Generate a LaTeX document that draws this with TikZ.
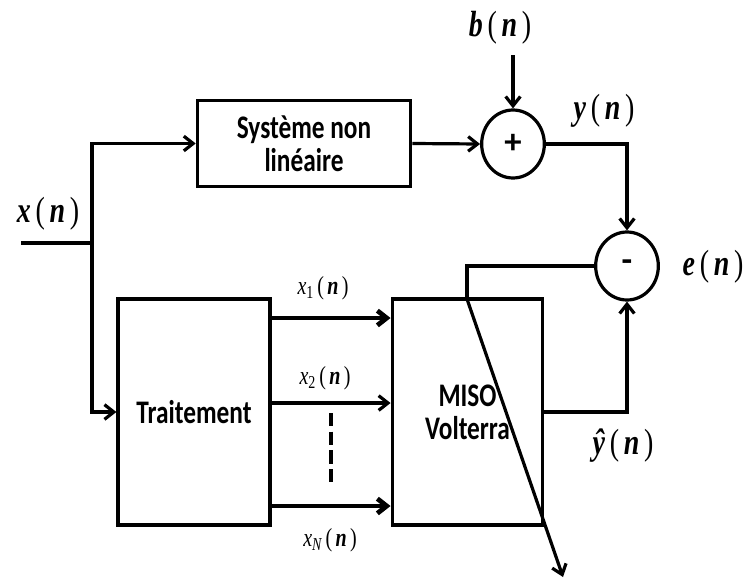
\documentclass[tikz,border=0pt]{standalone}
\usepackage{fontspec}
\usepackage{tikz}
\usetikzlibrary{arrows.meta, shapes.geometric}
\setmainfont{Liberation Serif}
\newfontfamily\boxfont{Carlito}
\newfontfamily\sigfont{Liberation Serif}

\newcommand{\sig}[1]{{\bfseries\itshape #1}\,(\,{\bfseries\itshape n}\,)}
\newcommand{\sub}[1]{{\itshape x}\textsubscript{#1}\,(\,{\bfseries\itshape n}\,)}

\begin{document}
\begin{tikzpicture}[
		x=0.75pt, y=-0.75pt,
		line width=2.4pt,
		block/.style={draw, line width=2.4pt, inner sep=0pt},
		boxtext/.style={align=center, yscale=1.3, transform shape,
			font=\boxfont\bfseries\fontsize{19}{19}\selectfont},
		sumnode/.style={draw, ellipse, line width=2.4pt, inner sep=0pt,
			minimum width=47pt, minimum height=51pt,
			font=\boxfont\bfseries\fontsize{26}{26}\selectfont},
		siglabel/.style={yscale=1.3, transform shape, font=\sigfont\fontsize{21}{24}\selectfont},
		sublabel/.style={yscale=1.3, transform shape, font=\sigfont\fontsize{15}{18}\selectfont},
		arrow/.style={-{Straight Barb[length=7pt, width=11pt]}, line width=2.4pt},
		thickarrow/.style={-{Straight Barb[length=7pt, width=11pt]}, line width=3.6pt}
	]
		\useasboundingbox (0,0) rectangle (746,578);

		% blocs
		\node[block, minimum width=160pt, minimum height=64pt] (sys) at (304,143.5) {};
		\node[block, minimum width=114pt, minimum height=169.5pt] (trait) at (194,412) {};
		\node[block, minimum width=113pt, minimum height=169.5pt] (miso) at (467.5,412) {};
		\node[boxtext] (systxt) at (sys) {Système non\\linéaire};
		\node[boxtext] (traittxt) at (trait) {Traitement};
		\node[boxtext] (misotxt) at (miso) {MISO\\Volterra};
		\node[sumnode] (plus) at (513,144) {+};
		\node[sumnode] (minus) at (627,266) {-};

		% points
		\coordinate (in) at (21,243);
		\coordinate (split) at (92,243);
		\coordinate (bin) at (513,55);
		\coordinate (tap) at (467,299);
		\coordinate (adapt) at (563,577);
		\coordinate (dottop) at (331,413);
		\coordinate (dotbot) at (331,487);

		% labels
		\node[siglabel] (lx) at (48,214) {\sig{x}};
		\node[siglabel] (lb) at (500,28) {\sig{b}};
		\node[siglabel] (ly) at (604,111) {\sig{y}};
		\node[siglabel] (le) at (713,267) {\sig{e}};
		\node[siglabel] (lyhat) at (623,446) {\sig{\^{y}}};
		\node[sublabel] (lx1) at (323,288) {\sub{1}};
		\node[sublabel] (lx2) at (325,378) {\sub{2}};
		\node[sublabel] (lxN) at (330,540) {\sub{\itshape N}};

		% liaisons
		\draw (in) -- (split);
		\draw[arrow] (split) |- (sys.west);
		\draw[arrow] (split) |- (trait.west);
		\draw[arrow] (sys.east) -- (plus.west);
		\draw[arrow] (bin) -- (plus.north);
		\draw[arrow] (plus.east) -| (minus.north);
		\draw[arrow] (miso.east) -| (minus.south);
		\draw[thickarrow] (trait.east |- 0,318) -- (miso.west |- 0,318);
		\draw[arrow] (trait.east |- 0,403) -- (miso.west |- 0,403);
		\draw[thickarrow] (trait.east |- 0,506) -- (miso.west |- 0,506);
		\draw[dash pattern=on 10pt off 4pt] (dottop) -- (dotbot);
		\draw (minus.west) -| (tap);
		\draw[arrow] (tap) -- (adapt);
	\end{tikzpicture}
\end{document}
